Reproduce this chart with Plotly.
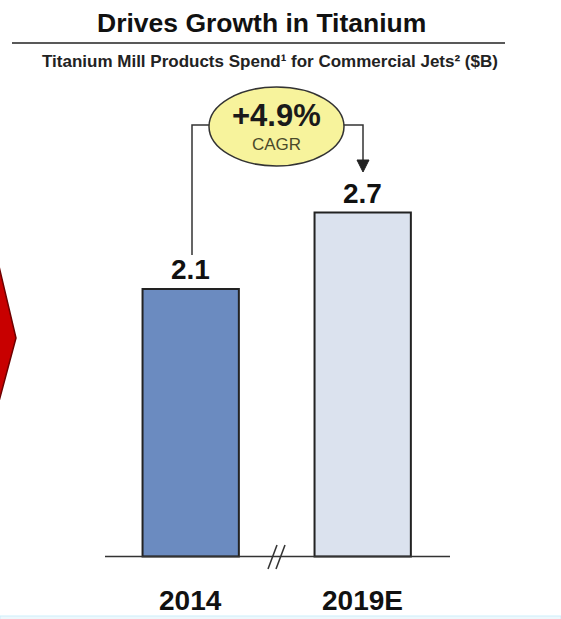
import plotly.graph_objects as go

# ---- data ----
categories = ["2014", "2019E"]
values = [2.1, 2.7]
value_labels = ["2.1", "2.7"]
bar_colors = ["#6b8bc0", "#dbe2ee"]
title_text = "Drives Growth in Titanium"
subtitle_text = "Titanium Mill Products Spend¹ for Commercial Jets² ($B)"
cagr_text = "+4.9%"
cagr_label = "CAGR"

W, H = 561, 619
FONT = "Arial, 'Liberation Sans', sans-serif"

def px(x):
    return x / W

def py(y):
    return 1 - y / H

fig = go.Figure()
fig.add_trace(go.Bar(
    x=[0, 1], y=values, width=0.56,
    marker=dict(color=bar_colors, line=dict(color="#222222", width=2)),
    hoverinfo="skip",
))

# axes mapped so that category 0 centres at ~190px, 1 at ~362px, baseline at ~556px
xc0, step = 190.7, 172.0
ybase, unit = 556.5, 127.4
fig.update_xaxes(range=[-xc0 / step, (W - xc0) / step], visible=False, fixedrange=True)
fig.update_yaxes(range=[-(H - ybase) / unit, ybase / unit], visible=False, fixedrange=True)

LINE = "#333333"
shapes = []
# title underline
shapes.append(dict(type="line", xref="paper", yref="paper", x0=px(12), x1=px(505),
                   y0=py(43), y1=py(43), line=dict(color="#222222", width=1.5)))
# baseline
shapes.append(dict(type="line", xref="paper", yref="paper", x0=px(105), x1=px(450),
                   y0=py(556.5), y1=py(556.5), line=dict(color=LINE, width=1.5)))
# break marks //
for dx in (0, 8):
    shapes.append(dict(type="line", xref="paper", yref="paper",
                       x0=px(268 + dx), x1=px(277 + dx), y0=py(569), y1=py(545),
                       line=dict(color=LINE, width=1.5)))
# red arrow at left edge
shapes.append(dict(type="path", xref="paper", yref="paper",
                   path=f"M {px(-2)},{py(262)} L {px(16)},{py(338)} L {px(-2)},{py(405)} Z",
                   fillcolor="#c80000", line=dict(color="#6e0000", width=1.5)))
# bracket: left vertical + horizontal
shapes.append(dict(type="path", xref="paper", yref="paper",
                   path=f"M {px(192)},{py(255)} L {px(192)},{py(125)} L {px(212)},{py(125)}",
                   line=dict(color=LINE, width=1.5)))
# bracket right: horizontal + vertical down
shapes.append(dict(type="path", xref="paper", yref="paper",
                   path=f"M {px(342)},{py(125)} L {px(363)},{py(125)} L {px(363)},{py(162)}",
                   line=dict(color=LINE, width=1.5)))
# arrow head
shapes.append(dict(type="path", xref="paper", yref="paper",
                   path=f"M {px(357)},{py(160)} L {px(369)},{py(160)} L {px(363)},{py(172)} Z",
                   fillcolor="#222222", line=dict(color="#222222", width=1)))
# ellipse
shapes.append(dict(type="circle", xref="paper", yref="paper",
                   x0=px(209), x1=px(344), y0=py(166), y1=py(87),
                   fillcolor="#f7f39c", line=dict(color=LINE, width=1.5)))
# bottom light strip
shapes.append(dict(type="rect", xref="paper", yref="paper", x0=0, x1=1,
                   y0=py(620), y1=py(616), fillcolor="#eef8fc",
                   line=dict(color="#cdeefa", width=1)))

def ann(text, x, y, size, color="#111111", **kw):
    d = dict(text=text, x=x, y=y, showarrow=False, xanchor="center", yanchor="middle",
             font=dict(family=FONT, size=size, color=color))
    d.update(kw)
    return d

annotations = [
    ann(f"<b>{title_text}</b>", px(261), py(23), 26.5, xref="paper", yref="paper"),
    ann(f"<b>{subtitle_text}</b>", px(270), py(61), 17, "#222222", xref="paper", yref="paper"),
    ann(f"<b>{cagr_text}</b>", px(276), py(115), 31, "#1a1a1a", xref="paper", yref="paper"),
    ann(cagr_label, px(276), py(144), 17, "#4a4a2a", xref="paper", yref="paper"),
]
for i, (cat, v, lab) in enumerate(zip(categories, values, value_labels)):
    annotations.append(ann(f"<b>{lab}</b>", i, v, 28, xref="x", yref="y",
                           yanchor="bottom", yshift=2))
    annotations.append(ann(f"<b>{cat}</b>", i, py(600), 28, xref="x", yref="paper"))

fig.update_layout(
    width=W, height=H, margin=dict(l=0, r=0, t=0, b=0),
    paper_bgcolor="white", plot_bgcolor="white",
    showlegend=False, shapes=shapes, annotations=annotations,
)

fig.write_html("out.html", config={"displayModeBar": False},
               post_script="document.body.style.margin='0';document.body.style.overflow='hidden';")
